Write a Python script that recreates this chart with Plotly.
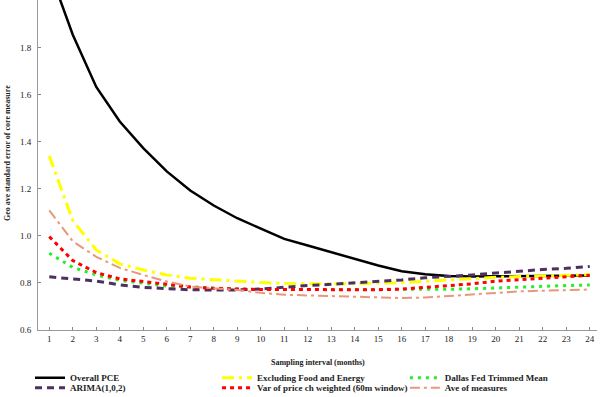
import plotly.graph_objects as go

months = list(range(1, 25))

overall_pce = [2.13, 1.855, 1.633, 1.486, 1.373, 1.274, 1.193, 1.129, 1.075, 1.031, 0.987, 0.959,
               0.93, 0.903, 0.874, 0.85, 0.837, 0.83, 0.827, 0.828, 0.829, 0.83, 0.831, 0.832]
excl_food_energy = [1.34, 1.065, 0.94, 0.881, 0.855, 0.834, 0.82, 0.813, 0.806, 0.802, 0.798, 0.796,
                    0.796, 0.797, 0.799, 0.801, 0.807, 0.813, 0.818, 0.824, 0.827, 0.83, 0.833, 0.835]
dallas_trimmed = [0.926, 0.866, 0.834, 0.811, 0.799, 0.787, 0.783, 0.777, 0.774, 0.772, 0.772, 0.771,
                  0.771, 0.771, 0.771, 0.772, 0.772, 0.773, 0.775, 0.779, 0.784, 0.787, 0.789, 0.791]
arima_102 = [0.826, 0.817, 0.808, 0.792, 0.781, 0.776, 0.771, 0.77, 0.77, 0.774, 0.782, 0.789,
             0.794, 0.8, 0.806, 0.813, 0.822, 0.827, 0.834, 0.842, 0.85, 0.857, 0.862, 0.87]
var_price_weighted = [0.997, 0.895, 0.844, 0.817, 0.806, 0.793, 0.783, 0.777, 0.774, 0.772, 0.772, 0.771,
                      0.771, 0.77, 0.771, 0.774, 0.782, 0.789, 0.796, 0.808, 0.814, 0.82, 0.826, 0.833]
ave_measures = [1.108, 0.977, 0.911, 0.864, 0.834, 0.806, 0.785, 0.777, 0.77, 0.758, 0.75, 0.747,
                0.745, 0.742, 0.739, 0.736, 0.738, 0.745, 0.752, 0.758, 0.764, 0.767, 0.769, 0.772]

y_ticks = [0.6, 0.8, 1.0, 1.2, 1.4, 1.6, 1.8]

x_title = "Sampling interval (months)"
y_title = "Geo ave standard error of core measure"

SERIF = "Liberation Serif, Times New Roman, serif"

# (name, values, line style, legend id)
series = [
    ("Overall PCE", overall_pce, dict(color="black", width=2.5, dash="solid"), "legend"),
    ("Excluding Food and Energy", excl_food_energy, dict(color="#FFFF00", width=3, dash="12px,5px,3px,5px"), "legend2"),
    ("Dallas Fed Trimmed Mean", dallas_trimmed, dict(color="#22EE22", width=3, dash="3px,5px"), "legend3"),
    ("ARIMA(1,0,2)", arima_102, dict(color="#4E3060", width=3, dash="7px,5px"), "legend4"),
    ("Var of price ch weighted (60m window)", var_price_weighted, dict(color="#FF0000", width=3, dash="4px,4px"), "legend5"),
    ("Ave of measures", ave_measures, dict(color="#E9967A", width=2, dash="10px,4px,3px,4px"), "legend6"),
]

fig = go.Figure()
for name, vals, line, leg in series:
    fig.add_trace(go.Scatter(x=months, y=vals, mode="lines", name=name, line=line, legend=leg))

legend_common = dict(
    orientation="h", xanchor="left", yanchor="middle",
    font=dict(family=SERIF, size=9, color="#222", weight="bold"), bgcolor="rgba(0,0,0,0)", itemwidth=30,
)
col_x = [-0.0143, 0.3203, 0.6563]
row_y = [-0.1445, -0.175]
legend_layout = {}
for i, key in enumerate(["legend", "legend2", "legend3", "legend4", "legend5", "legend6"]):
    legend_layout[key] = dict(x=col_x[i % 3], y=row_y[i // 3], **legend_common)

fig.update_layout(
    width=600, height=397,
    margin=dict(l=38, r=3, t=0, b=67, autoexpand=False),
    paper_bgcolor="white", plot_bgcolor="white",
    font=dict(family=SERIF, size=9, color="#222"),
    showlegend=True,
    **legend_layout,
    xaxis=dict(
        range=[0.52, 24.31], tickmode="array", tickvals=months, ticktext=[str(m) for m in months],
        ticks="inside", ticklen=3, tickcolor="#888", showline=True, linecolor="#999", linewidth=1,
        showgrid=False, zeroline=False, tickfont=dict(family=SERIF, size=9, color="#222"),
        automargin=False, ticklabeloverflow="allow",
    ),
    yaxis=dict(
        range=[0.6, 2.0025], tickmode="array", tickvals=y_ticks, ticktext=[f"{v:.1f}" for v in y_ticks],
        ticks="inside", ticklen=3, tickcolor="#888", showline=True, linecolor="#999", linewidth=1,
        showgrid=False, zeroline=False, tickfont=dict(family=SERIF, size=9, color="#222"),
        automargin=False, ticklabeloverflow="allow", ticklabelstandoff=4,
    ),
    annotations=[
        dict(text=f"<b>{x_title}</b>", xref="paper", yref="paper", x=0.5, y=-0.097,
             xanchor="center", yanchor="middle", showarrow=False,
             font=dict(family=SERIF, size=8, color="#222")),
        dict(text=f"<b>{y_title}</b>", xref="paper", yref="paper", x=-0.0555, y=0.536,
             xanchor="center", yanchor="middle", showarrow=False, textangle=-90,
             font=dict(family=SERIF, size=8, color="#222")),
    ],
)

fig.write_html(
    "out.html",
    config={"displayModeBar": False},
    post_script="document.body.style.margin='0';document.body.style.overflow='hidden';",
)
